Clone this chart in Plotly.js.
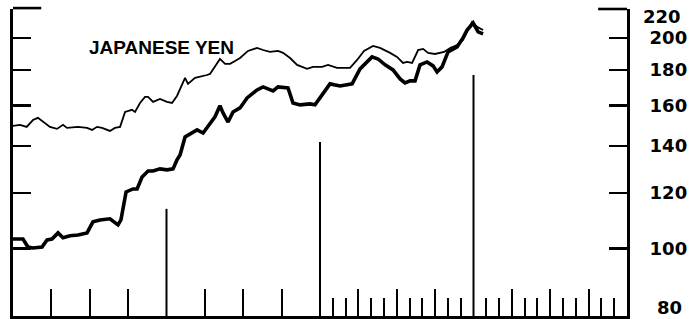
<!DOCTYPE html>
<html>
<head>
<meta charset="utf-8">
<script src="https://cdn.plot.ly/plotly-3.0.1.min.js"></script>
<style>html,body{margin:0;padding:0;background:#fff;}#chart{width:699px;height:319px;}</style>
</head>
<body>
<div id="chart"></div>
<script>
// x positions are months from the start of the chart (4 years = 48 months)
var thinX = [0,0.55,1.07,1.56,1.95,2.35,2.89,3.44,3.91,4.22,5.08,5.79,6.18,6.57,6.96,7.58,7.97,8.37,8.76,9.30,9.54,9.93,10.32,10.56,10.95,11.49,12.04,12.43,12.82,13.45,13.68,14.23,14.62,15.17,15.40,15.79,16.18,16.58,16.97,17.36,17.75,18.37,19.08,19.55,20.09,20.72,21.11,21.66,22.21,22.99,23.45,24.16,24.63,25.33,26.35,26.90,27.44,28.15,28.69,29.48,30.02,30.49,30.81,31.20,31.67,32.06,32.45,32.99,33.38,33.70,34.17,34.72,35.18,35.50,35.89,36.28,36.75];
var thinV = [149.7,150.2,149.2,152.6,153.7,151.6,149.2,148.2,150.2,148.7,149.2,148.7,147.7,149.2,148.7,147.2,148.7,149.2,156.7,157.8,156.7,161.4,164.7,164.7,162.0,163.6,162.0,161.4,165.2,175.3,171.9,175.3,175.9,177.0,177.6,181.8,186.6,183.6,183.6,185.4,187.2,191.6,193.5,192.2,191.0,191.6,190.4,187.2,183.0,180.6,181.8,181.8,183.0,181.2,181.2,186.0,191.6,194.8,193.5,190.4,187.9,184.2,184.8,184.2,192.2,192.9,190.4,189.7,190.4,191.0,193.5,195.4,198.7,204.0,210.8,207.4,205.3];

var thickX = [0,0.78,1.17,1.56,2.27,2.66,3.05,3.52,3.91,4.46,5.08,5.79,6.25,6.80,7.58,8.21,8.44,8.84,9.38,9.70,10.09,10.56,10.95,11.49,12.04,12.51,12.82,13.06,13.45,13.99,14.39,14.86,15.40,15.79,16.18,16.42,16.81,17.20,17.75,18.30,19.08,19.55,20.33,20.72,21.50,21.89,22.44,23.22,23.61,24.16,24.78,25.57,26.51,27.13,27.68,28.07,28.54,29.09,29.71,30.26,30.65,31.04,31.43,31.82,32.37,32.84,33.15,33.54,34.01,34.72,35.18,35.50,35.97,36.36,36.75];
var thickV = [103.1,103.1,100.4,100.1,100.4,102.8,103.1,105.2,103.5,104.2,104.5,105.2,109.1,109.8,110.2,108.0,109.8,120.4,121.6,121.6,126.5,129.0,129.0,129.9,129.5,129.9,133.8,136.0,144.3,146.2,147.7,146.2,151.1,154.2,159.9,156.2,151.6,156.7,158.8,164.1,168.5,170.2,168.0,170.2,169.6,161.4,160.4,160.9,160.4,165.8,171.9,170.7,171.9,180.6,184.8,187.9,186.6,183.0,180.0,174.7,172.4,173.6,173.6,183.0,184.8,182.4,178.8,181.8,191.0,194.2,200.0,205.3,210.1,204.0,202.7];

var yTickVals = [100,120,140,160,180,200];
var yTickText = ['100','120','140','160','180','200'];
var yEdgeLabels = [{v:220, t:'220'},{v:80, t:'80'}];
var quarterTicks = [3,6,9,15,18,21,27,30,33,39,42,45];
var monthTicks = [25,26,28,29,31,32,34,35,37,38,40,41,43,44,46,47];
var yearMarks = [12,24,36];
var yearMarkTop = [0.349,0.567,0.785];
var chartTitle = 'JAPANESE YEN';

var traces = [
  {x: thinX, y: thinV, type:'scatter', mode:'lines', line:{color:'#000', width:1.8}, hoverinfo:'skip', showlegend:false},
  {x: thickX, y: thickV, type:'scatter', mode:'lines', line:{color:'#000', width:3.6}, hoverinfo:'skip', showlegend:false}
];

var shapes = [];
yearMarks.forEach(function(m,i){
  shapes.push({type:'line', xref:'x', yref:'paper', x0:m, x1:m, y0:0, y1:yearMarkTop[i], line:{color:'#000', width:2}});
});
shapes.push({type:'line', xref:'paper', yref:'paper', x0:0, x1:0.046, y0:1.003, y1:1.003, line:{color:'#000', width:2.6}});
shapes.push({type:'line', xref:'paper', yref:'paper', x0:0.953, x1:1, y0:1, y1:1, line:{color:'#000', width:2.6}});

var labFont = {family:'DejaVu Sans', size:18, color:'#000', weight:'bold'};
var annotations = [
  {text: chartTitle, xref:'paper', yref:'paper', x:(87-13)/614, y:(316-47.5)/307, xanchor:'left', yanchor:'middle', showarrow:false,
   font:{family:'Liberation Sans, Arial, sans-serif', size:19, color:'#000', weight:'bold'}}
];
annotations.push({text: yEdgeLabels[0].t, xref:'paper', yref:'y', x:1, y:Math.log10(yEdgeLabels[0].v), xanchor:'right', yanchor:'middle', xshift:56, yshift:-7, showarrow:false, font:labFont});
annotations.push({text: yEdgeLabels[1].t, xref:'paper', yref:'y', x:1, y:Math.log10(yEdgeLabels[1].v), xanchor:'right', yanchor:'bottom', xshift:56, yshift:-3, borderpad:0, showarrow:false, font:labFont});

var layout = {
  width:699, height:319,
  margin:{l:13, r:72, t:9, b:3, pad:0},
  paper_bgcolor:'#fff', plot_bgcolor:'#fff',
  showlegend:false,
  xaxis:{range:[0,48], showgrid:false, zeroline:false, showline:true, linecolor:'#000', linewidth:3,
         tickmode:'array', tickvals:quarterTicks, ticks:'inside', ticklen:27, tickwidth:2, tickcolor:'#000', showticklabels:false,
         minor:{tickmode:'array', tickvals:monthTicks, ticks:'inside', ticklen:18, tickwidth:2, tickcolor:'#000', showgrid:false}},
  yaxis:{type:'log', side:'right', range:[Math.log10(80), Math.log10(220)], showgrid:false, zeroline:false,
         showline:true, linecolor:'#000', linewidth:3, mirror:'ticks',
         tickmode:'array', tickvals:[80].concat(yTickVals).concat([220]), ticktext:[''].concat(yTickText).concat(['']),
         ticks:'inside', ticklen:18, tickwidth:2.6, tickcolor:'#000', ticklabelstandoff:16, tickfont:labFont},
  shapes: shapes,
  annotations: annotations
};

Plotly.newPlot('chart', traces, layout, {staticPlot:true, displayModeBar:false});
</script>
</body>
</html>
